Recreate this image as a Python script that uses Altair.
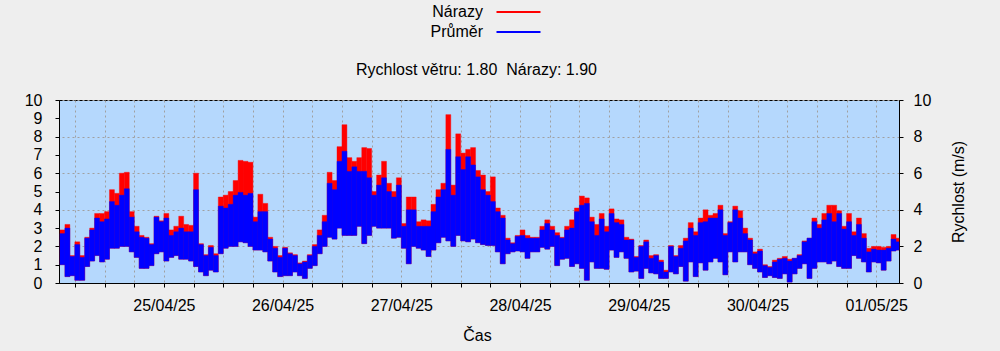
import altair as alt
import pandas as pd
from datetime import datetime, timedelta, timezone

# ---------------- data ----------------
# one value per hour, first hour = 24/04/25 03:00 (hour -21 relative to 25/04/25 00:00)
FIRST_HOUR = -21
avg_lo = [1.0, 0.35, 0.4, 0.15, 0.15, 0.9, 1.2, 1.5, 1.15, 1.3, 1.9, 1.9, 2.0, 2.0, 1.7, 1.4, 0.8, 0.8, 0.95, 1.6, 1.7,
          1.2, 1.4, 1.5, 1.3, 1.3, 1.2, 0.9, 0.6, 0.4, 0.7, 0.6, 1.6, 1.9, 2.0, 2.0, 2.25, 2.2, 2.0, 1.8, 1.8, 1.7, 1.2, 0.6, 0.35,
          0.4, 0.4, 0.6, 0.4, 0.25, 0.8, 0.95, 1.6, 2.0, 2.5, 2.4, 3.0, 2.6, 2.6, 2.6, 3.1, 2.15, 2.6, 3.1, 3.0, 3.0, 3.0, 2.45, 2.5,
          1.9, 1.05, 2.0, 1.9, 1.8, 1.45, 1.8, 2.2, 2.5, 2.3, 2.0, 2.6, 2.3, 2.25, 2.4, 2.2, 2.1, 2.05, 2.05, 1.7, 1.05, 1.6, 1.7,
          1.75, 1.7, 1.35, 1.7, 1.7, 1.95, 1.85, 2.0, 0.95, 1.3, 1.35, 0.9, 1.05, 0.8, 0.15, 1.15, 0.8, 0.8, 0.75, 1.8, 1.4, 1.7,
          1.35, 0.6, 0.65, 0.25, 0.8, 0.55, 0.5, 0.25, 0.25, 0.6, 0.5, 0.9, 0.1, 1.15, 0.35, 1.1, 0.7, 1.15, 1.35, 1.15, 0.45, 1.7,
          1.15, 1.7, 1.7, 1.0, 0.8, 0.6, 0.3, 0.4, 0.3, 0.25, 0.5, 0.05, 0.5, 0.8, 1.05, 0.25, 0.8, 1.15, 1.15, 1.05, 1.2, 0.9,
          0.8, 0.8, 1.5, 1.35, 1.15, 0.6, 1.15, 1.1, 0.7, 1.2, 1.75, 1.8]
avg_hi = [2.7, 3.0, 1.45, 2.1, 1.4, 2.45, 2.9, 3.55, 3.35, 3.5, 4.45, 4.25, 4.8, 5.15, 3.6, 2.8, 2.5, 2.45, 2.1, 3.6, 3.35,
          3.55, 2.6, 2.8, 3.0, 2.8, 2.8, 5.1, 2.1, 1.5, 1.95, 1.5, 4.2, 4.1, 4.3, 4.8, 4.95, 4.8, 4.9, 3.35, 3.9, 3.9, 2.4, 1.9, 1.4,
          1.9, 1.6, 1.5, 1.05, 1.15, 1.5, 2.0, 2.6, 3.35, 5.45, 5.1, 6.65, 7.2, 6.1, 6.35, 6.1, 6.1, 5.75, 4.8, 5.35, 5.75, 5.0, 4.7,
          5.35, 3.1, 4.0, 4.0, 3.1, 3.1, 3.1, 3.9, 4.7, 5.1, 7.3, 4.8, 6.9, 6.2, 6.9, 6.45, 5.8, 5.1, 4.8, 4.45, 3.9, 3.55, 2.35,
          2.15, 2.55, 2.6, 2.45, 2.45, 2.45, 2.9, 3.25, 2.9, 2.6, 2.45, 2.9, 3.0, 3.9, 4.25, 4.35, 3.35, 2.6, 3.5, 2.8, 3.8, 3.3,
          3.2, 2.35, 2.35, 1.4, 2.0, 2.25, 1.35, 1.5, 1.15, 0.6, 2.0, 1.45, 1.9, 2.3, 3.0, 2.6, 3.3, 3.35, 3.55, 3.55, 4.0, 2.6,
          3.3, 4.0, 3.55, 2.7, 2.35, 1.6, 1.75, 0.95, 0.85, 1.15, 1.3, 1.35, 1.2, 1.35, 1.5, 2.25, 2.45, 3.35, 3.0, 3.45, 3.8,
          3.35, 3.8, 2.95, 3.35, 2.6, 3.2, 2.45, 1.7, 1.85, 1.8, 1.8, 1.9, 2.4, 2.25]
gust = [2.9, 3.2, 1.5, 2.25, 1.5, 2.5, 3.0, 3.8, 3.8, 3.9, 5.1, 4.9, 6.0, 6.05, 3.9, 3.1, 2.6, 2.5, 2.15, 3.65, 3.4,
        3.8, 2.9, 3.1, 3.65, 3.2, 3.15, 6.0, 2.15, 1.55, 2.05, 1.6, 4.7, 4.8, 5.0, 5.6, 6.7, 6.65, 6.6, 3.6, 4.85, 4.35, 2.5,
        2.0, 1.5, 1.95, 1.65, 1.55, 1.1, 1.2, 1.55, 2.1, 2.9, 3.7, 6.05, 5.6, 7.45, 8.65, 6.85, 6.65, 6.85, 7.4, 7.35, 5.0,
        5.9, 6.65, 5.45, 5.0, 5.75, 3.25, 4.7, 4.7, 3.35, 3.45, 3.4, 4.3, 5.1, 5.45, 9.2, 5.35, 8.15, 7.1, 7.3, 7.4, 6.15, 5.9,
        5.0, 5.8, 4.1, 3.7, 2.45, 2.2, 2.6, 2.9, 2.6, 2.5, 2.5, 3.1, 3.45, 3.1, 2.75, 2.5, 3.1, 3.45, 4.1, 4.75, 4.65, 3.6,
        3.2, 3.8, 3.1, 4.05, 3.5, 3.45, 2.5, 2.4, 1.45, 2.05, 2.35, 1.5, 1.55, 1.25, 0.7, 2.05, 1.5, 2.05, 2.45, 3.3, 2.8,
        3.55, 4.0, 3.7, 3.8, 4.25, 2.7, 3.35, 4.2, 3.95, 3.0, 2.45, 1.7, 1.85, 1.0, 0.9, 1.25, 1.35, 1.45, 1.3, 1.35, 1.55,
        2.3, 2.45, 3.55, 3.2, 3.8, 4.25, 4.25, 3.95, 3.1, 3.8, 2.8, 3.55, 2.7, 1.9, 2.0, 2.0, 1.95, 2.0, 2.65, 2.45]

legend_labels = ["Nárazy", "Průměr"]
legend_colors = ["#ff0000", "#0000ff"]
# second space is a no-break space so that the double gap survives SVG whitespace collapsing
title_text = "Rychlost větru: 1.80 \u00a0Nárazy: 1.90"
x_title = "Čas"
y_title = "Rychlost (m/s)"
left_ticks = list(range(0, 11))
right_ticks = [0, 2, 4, 6, 8, 10]
grid_step_hours = 6

# time range of the axis (hours relative to 25/04/25 00:00 UTC)
RANGE_START = -21.2
RANGE_END = 148.6

assert len(avg_lo) == len(avg_hi) == len(gust)

base = datetime(2025, 4, 25, tzinfo=timezone.utc)


def iso(hours):
    return (base + timedelta(hours=hours)).strftime("%Y-%m-%dT%H:%M:%SZ")


def ms(hours):
    return int((base + timedelta(hours=hours)).timestamp() * 1000)


rows = []
for i in range(len(avg_lo)):
    h = FIRST_HOUR + i
    rows.append({
        "t0": iso(max(h, RANGE_START)),
        "t1": iso(min(h + 1, RANGE_END)),
        "lo": avg_lo[i],
        "hi": avg_hi[i],
        "gust": gust[i],
    })
df = pd.DataFrame(rows)

x_tick_values = [ms(h) for h in range(-18, 148, grid_step_hours)]

FONT = "Liberation Sans"
GRID = "#a0a0a0"

xscale = alt.Scale(type="utc", domain=[ms(RANGE_START), ms(RANGE_END)], nice=False)
yscale = alt.Scale(domain=[0, 10], nice=False)

x_axis = alt.Axis(
    title=x_title,
    values=x_tick_values,
    labelExpr="utchours(datum.value) == 0 ? utcFormat(datum.value, '%d/%m/%y') : ''",
    labelOverlap=False,
    labelFlush=False,
    grid=True,
    gridDash=[2, 3],
    gridColor=GRID,
    tickSize=4,
    labelPadding=10,
    titleBaseline="alphabetic",
    titleY=57,
    titleX=418,
)

left_axis = alt.Axis(
    title=None,
    values=left_ticks,
    format="d",
    tickSize=4,
    labelPadding=13,
    grid=False,
    orient="left",
)

right_axis = alt.Axis(
    title=y_title,
    values=right_ticks,
    format="d",
    tickSize=4,
    labelPadding=10,
    grid=True,
    gridDash=[2, 3],
    gridColor=GRID,
    orient="right",
    titleAngle=270,
    titleX=59,
    titleY=91.5,
    titleAlign="center",
    titleBaseline="middle",
)

red = alt.Chart(df).mark_rect(color=legend_colors[0], stroke=legend_colors[0], strokeWidth=0.4).encode(
    x=alt.X("t0:T", scale=xscale, axis=x_axis),
    x2="t1:T",
    y=alt.Y("lo:Q", scale=yscale, axis=left_axis),
    y2="gust:Q",
)

blue = alt.Chart(df).mark_rect(color=legend_colors[1], stroke=legend_colors[1], strokeWidth=0.4).encode(
    x=alt.X("t0:T", scale=xscale, axis=x_axis),
    x2="t1:T",
    y=alt.Y("lo:Q", scale=yscale, axis=right_axis),
    y2="hi:Q",
)

title_df = pd.DataFrame({"label": [title_text]})
title_mark = alt.Chart(title_df).mark_text(
    align="center", baseline="alphabetic", fontSize=16, font=FONT, color="black"
).encode(x=alt.value(417.5), y=alt.value(-25), text="label:N")

leg_df0 = pd.DataFrame({"label": [legend_labels[0]]})
leg_df1 = pd.DataFrame({"label": [legend_labels[1]]})
leg_text0 = alt.Chart(leg_df0).mark_text(
    align="right", baseline="alphabetic", fontSize=16, font=FONT, color="black"
).encode(x=alt.value(424), y=alt.value(-83), text="label:N")
leg_text1 = alt.Chart(leg_df1).mark_text(
    align="right", baseline="alphabetic", fontSize=16, font=FONT, color="black"
).encode(x=alt.value(424), y=alt.value(-63), text="label:N")
leg_line0 = alt.Chart(leg_df0).mark_rule(color=legend_colors[0], strokeWidth=2).encode(
    x=alt.value(437.5), x2=alt.value(481.5), y=alt.value(-88)
)
leg_line1 = alt.Chart(leg_df1).mark_rule(color=legend_colors[1], strokeWidth=2).encode(
    x=alt.value(437.5), x2=alt.value(481.5), y=alt.value(-68)
)

chart = (
    alt.layer(red, blue, title_mark, leg_text0, leg_line0, leg_text1, leg_line1)
    .resolve_axis(y="independent")
    .properties(
        width=840,
        height=183,
        autosize=alt.AutoSizeParams(type="none"),
        padding={"left": 59, "top": 100, "right": 101, "bottom": 68},
        background="#eeeeee",
    )
    .configure_view(fill="#b5d8fd", stroke="black", strokeWidth=1)
    .configure_axis(
        labelFont=FONT,
        labelFontSize=16,
        labelColor="black",
        titleFont=FONT,
        titleFontSize=16,
        titleFontWeight="normal",
        titleColor="black",
        domainColor="black",
        tickColor="black",
        gridOpacity=1,
    )
)

chart.save("out.html", embed_options={"renderer": "svg", "actions": False})
